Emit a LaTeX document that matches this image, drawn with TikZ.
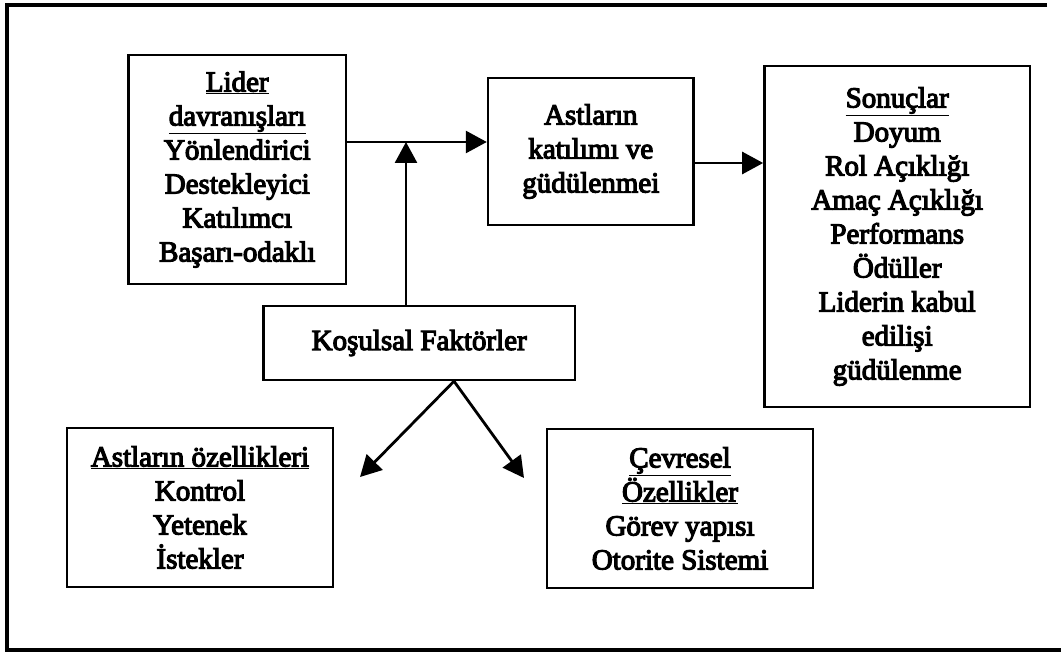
\documentclass[tikz,border=0pt]{standalone}
\usepackage{fontspec}
\setmainfont{Liberation Serif}
\newfontfamily\scanfont{Liberation Serif}[FakeBold=4]
\usetikzlibrary{arrows.meta}
\begin{document}
\begin{tikzpicture}[x=1pt,y=-1pt,
  box/.style={draw=black, line width=2.4pt, inner sep=0pt, align=center,
    font=\scanfont\fontsize{29}{34}\selectfont},
  conn/.style={line width=2.8pt, -{Triangle[length=21pt,width=22pt]}}]
\useasboundingbox (0,0) rectangle (1061,655);
\fill[white] (0,0) rectangle (1061,655);
% outer frame (right side cropped)
\draw[line width=3.5pt] (1047,5) -- (7,5) -- (7,650) -- (1061,650);

\node[box, minimum width=217.5pt, minimum height=229pt] (lider) at (237.25,169.5)
  {\underline{Lider}\\\underline{davranışları}\\Yönlendirici\\Destekleyici\\Katılımcı\\Başarı-odaklı};
\node[box, minimum width=205.6pt, minimum height=147pt] (astlar) at (590.8,151.5)
  {Astların\\katılımı ve\\güdülenmei};
\node[box, minimum width=265.7pt, minimum height=341pt] (sonuc) at (897.2,236.5)
  {\underline{Sonuçlar}\\Doyum\\Rol Açıklığı\\Amaç Açıklığı\\Performans\\Ödüller\\Liderin kabul\\edilişi\\güdülenme};
\node[box, minimum width=311.6pt, minimum height=74pt] (kos) at (419.2,343)
  {Koşulsal Faktörler};
\node[box, minimum width=266pt, minimum height=159pt] (astoz) at (200,507.5)
  {\underline{Astların özellikleri}\\Kontrol\\Yetenek\\İstekler};
\node[box, minimum width=266pt, minimum height=159pt] (cevre) at (680,508.5)
  {\underline{Çevresel}\\\underline{Özellikler}\\Görev yapısı\\Otorite Sistemi};

\coordinate (j) at (406,142);
\coordinate (k) at (0,163);
\coordinate (apx) at (454,0);
\coordinate (tipL) at (360,477);
\coordinate (tipR) at (524,478);

\draw[conn] (lider.east |- j) -- (astlar.west |- j);
\draw[conn] (kos.north -| j) -- (j);
\draw[conn] (astlar.east |- k) -- (sonuc.west |- k);
\draw[conn] (kos.south -| apx) -- (tipL);
\draw[conn] (kos.south -| apx) -- (tipR);
\end{tikzpicture}
\end{document}
